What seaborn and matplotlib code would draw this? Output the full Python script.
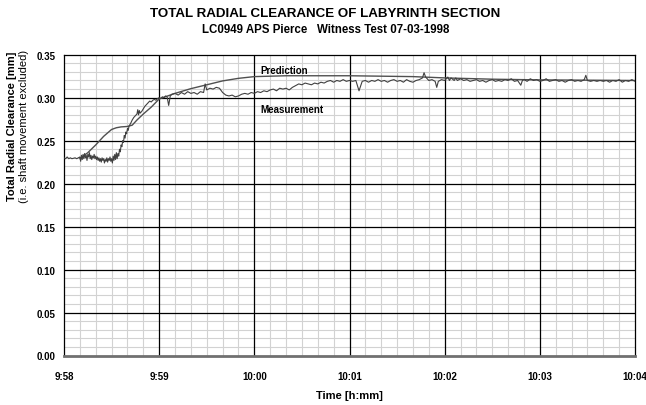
import matplotlib
matplotlib.use("Agg")
import matplotlib.pyplot as plt
import seaborn as sns
import pandas as pd
import numpy as np
from matplotlib.ticker import MultipleLocator, FormatStrFormatter

# ---- data (seconds after 9:58:00, clearance in mm) ----
meas_t = [0, 1, 2, 3, 4, 5, 6, 7, 8, 9, 10,
          10.5, 11, 11.5, 12, 12.5, 13, 13.5, 14, 14.5, 15, 15.5, 16, 16.5, 17, 17.5, 18, 18.5, 19, 19.5, 20, 20.5, 21,
          21.5, 22, 22.5, 23, 23.5, 24, 24.5, 25, 25.5, 26, 26.5, 27, 27.5, 28, 28.5, 29, 29.5, 30, 30.5, 31, 31.5, 32, 32.5, 33, 33.5, 34,
          34.5, 35, 35.5, 36, 36.5, 37, 37.5, 38, 38.5, 39, 39.5, 40, 40.5, 41, 42, 43, 44, 45, 46, 46.5, 47, 47.5, 48, 49, 50,
          51, 52, 53, 54, 55, 56, 57, 58, 59, 60, 61, 62, 63, 64, 65, 66, 67, 68, 70, 72, 74, 76, 78, 80, 82, 84, 86, 88, 89, 90,
          92, 94, 96, 98, 100, 102, 104, 106, 108, 110, 112, 114, 116, 118, 120, 122, 124, 126, 128, 130, 132, 134, 136, 138, 140,
          142, 144, 146, 148, 150, 152, 154, 156, 158, 160, 162, 164, 166, 168, 170, 172, 174, 176, 178, 180, 182, 184, 186, 188,
          190, 192, 194, 196, 198, 200, 202, 204, 206, 208, 210, 212, 214, 216, 218, 220, 222, 224, 226, 227, 228, 230, 232, 234,
          235, 236, 238, 240, 242, 243, 244, 246, 247, 248, 250, 252, 254, 256, 258, 260, 262, 264, 266, 268, 270, 272, 274, 276,
          278, 280, 282, 284, 286, 288, 289, 290, 292, 294, 296, 298, 300, 302, 304, 306, 308, 310, 312, 314, 316, 318, 320, 322,
          324, 326, 328, 329, 330, 332, 334, 336, 338, 340, 342, 344, 346, 348, 350, 352, 354, 356, 358, 360]
meas_v = [.230, .229, .231, .229, .230, .229, .2295, .230, .229, .230, .231,
          .226, .233, .228, .234, .229, .235, .230, .233, .227, .234, .231, .236, .229, .233, .228, .232, .230, .234, .229, .232, .228, .231,
          .227, .230, .226, .229, .225, .230, .227, .229, .224, .228, .226, .230, .225, .229, .227, .231, .226, .229, .224, .232, .227, .234, .228, .236, .229, .235,
          .232, .240, .237, .245, .243, .250, .248, .256, .253, .260, .258, .264, .262, .267, .270, .274, .277, .279, .281, .286, .280, .285, .282, .284, .287,
          .290, .292, .294, .296, .295, .297, .298, .297, .299, .300, .299, .301, .300, .302, .301, .291, .302, .304, .305, .303, .306, .304, .307, .305, .306, .304, .307, .306, .316, .309,
          .311, .310, .312, .311, .306, .303, .302, .303, .301, .302, .304, .305, .304, .306, .305, .307, .306, .308, .307, .309, .310, .308, .311, .310, .311,
          .309, .312, .314, .316, .315, .317, .316, .315, .317, .316, .318, .317, .319, .320, .318, .320, .319, .321, .319, .320, .319, .320, .308, .319,
          .320, .318, .320, .319, .321, .319, .320, .318, .320, .321, .319, .320, .318, .321, .319, .318, .320, .321, .323, .329, .324, .320, .321, .319,
          .312, .319, .321, .320, .324, .320, .323, .320, .323, .320, .322, .320, .321, .319, .320, .321, .319, .320, .318, .320, .321, .319, .320, .319,
          .321, .320, .322, .319, .320, .3145, .320, .321, .319, .322, .320, .321, .319, .320, .322, .319, .320, .321, .319, .320, .318, .320, .321, .319,
          .320, .319, .321, .326, .320, .319, .320, .319, .320, .319, .320, .318, .320, .319, .321, .318, .320, .319, .321, .319]

pred_t = [10, 15, 20, 25, 30, 33, 36, 40, 43, 46, 50, 55, 60, 70, 80, 90, 100, 110, 120, 140, 180, 220, 240, 270, 300, 360]
pred_v = [.229, .236, .245, .255, .263, .265, .266, .2665, .268, .274, .281, .289, .2985, .305, .3105, .315, .3195, .3225, .3245, .3255, .3255, .3245, .323, .3215, .3207, .3200]

xtick_pos = [0, 60, 120, 180, 240, 300, 360]
xtick_labels = ["9:58", "9:59", "10:00", "10:01", "10:02", "10:03", "10:04"]
ytick_pos = [0.0, 0.05, 0.10, 0.15, 0.20, 0.25, 0.30, 0.35]

sns.set_style("white")
plt.rcParams['font.family'] = ['Liberation Sans', 'DejaVu Sans']
plt.rcParams['text.color'] = 'black'
plt.rcParams['axes.labelcolor'] = 'black'
plt.rcParams['xtick.color'] = 'black'
plt.rcParams['ytick.color'] = 'black'

fig = plt.figure(figsize=(6.46, 4.06), dpi=100)
ax = fig.add_axes([64/646, 1 - 356.5/406, (635 - 64)/646, (356.5 - 55.7)/406])

df_m = pd.DataFrame({"t": meas_t, "v": meas_v})
df_p = pd.DataFrame({"t": pred_t, "v": pred_v})
sns.lineplot(data=df_p, x="t", y="v", ax=ax, color="#505050", lw=1.0, sort=False, estimator=None, zorder=3)
sns.lineplot(data=df_m, x="t", y="v", ax=ax, color="#404040", lw=0.8, sort=False, estimator=None, zorder=4)

ax.set_xlim(0, 360)
ax.set_ylim(0, 0.35)
ax.set_xticks(xtick_pos)
ax.set_xticklabels(xtick_labels)
ax.set_yticks(ytick_pos)
ax.yaxis.set_major_formatter(FormatStrFormatter("%.2f"))
ax.xaxis.set_minor_locator(MultipleLocator(10))
ax.yaxis.set_minor_locator(MultipleLocator(0.01))
ax.grid(False)
ax.grid(which="minor", color="#d2d2d2", lw=0.8)
ax.set_axisbelow(True)
# major grid drawn above the minor grid
for xp in xtick_pos[1:-1]:
    ax.axvline(xp, color="black", lw=0.9, zorder=1)
for yp in ytick_pos[1:-1]:
    ax.axhline(yp, color="black", lw=0.9, zorder=1)

for s in ax.spines.values():
    s.set_color("black")
    s.set_linewidth(0.9)
ax.spines["bottom"].set_color("#707070")
ax.spines["bottom"].set_linewidth(2.0)
ax.tick_params(axis="y", which="major", labelsize=7, length=3, width=0.8, direction="out", pad=3, colors="black")
ax.tick_params(axis="x", which="major", labelsize=7, pad=11, length=0, colors="black")
ax.tick_params(which="minor", length=0)
for lab in ax.get_xticklabels() + ax.get_yticklabels():
    lab.set_fontweight("bold")
ax.set_xlabel("")
ax.set_ylabel("")

ax.text(123.5, 0.332, "Prediction", fontsize=7, fontweight="bold", ha="left", va="center", zorder=5)
ax.text(123.5, 0.2866, "Measurement", fontsize=7, fontweight="bold", ha="left", va="center", zorder=5)

fig.text(325/646, 1 - 14/406, "TOTAL RADIAL CLEARANCE OF LABYRINTH SECTION", ha="center", va="center",
         fontsize=9.6, fontweight="bold")
fig.text(326/646, 1 - 29.7/406, "LC0949 APS Pierce   Witness Test 07-03-1998", ha="center", va="center",
         fontsize=8.3, fontweight="bold")
fig.text(349.5/646, 1 - 396/406, "Time [h:mm]", ha="center", va="center", fontsize=8, fontweight="bold")
fig.text(12/646, 1 - 126/406, "Total Radial Clearance [mm]", ha="center", va="center", rotation=90,
         fontsize=8, fontweight="bold")
fig.text(24/646, 1 - 126/406, "(i.e. shaft movement excluded)", ha="center", va="center", rotation=90,
         fontsize=8)

fig.savefig("out.png", dpi=100)
